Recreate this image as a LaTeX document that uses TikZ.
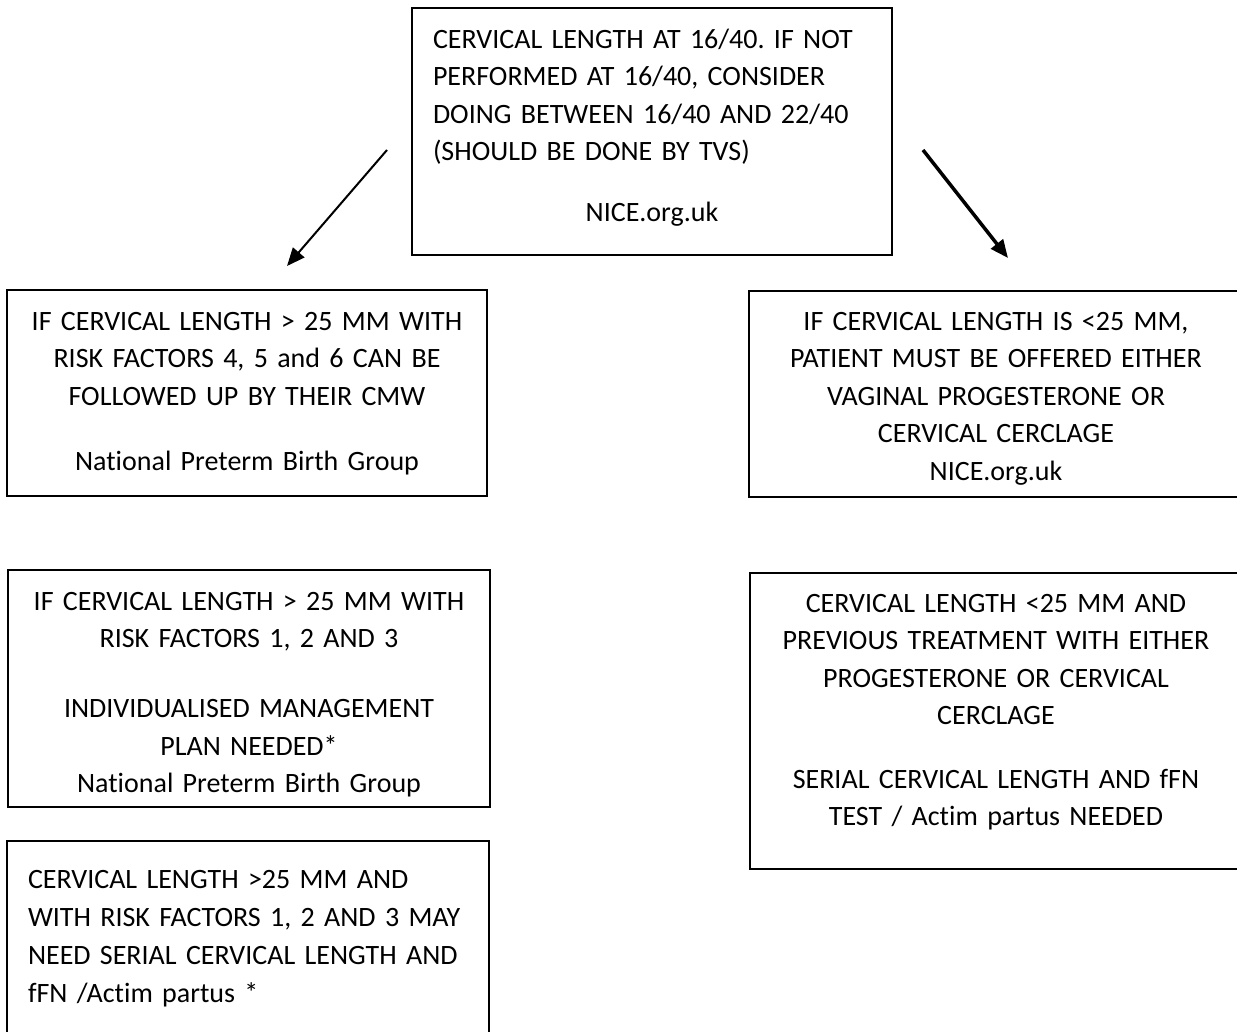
\documentclass[tikz,border=0pt]{standalone}
\usepackage{fontspec}
\setmainfont{Carlito}[Ligatures=NoCommon]
\usetikzlibrary{arrows.meta}
\frenchspacing
\begin{document}
\begin{tikzpicture}[x=1pt,y=-1pt,
  box/.style={draw, line width=1.3pt, inner sep=0pt, outer sep=0pt, anchor=north west},
  txt/.style={inner sep=0pt, outer sep=0pt, font=\fontsize{28}{37.5}\selectfont},
  arr/.style={-{Triangle[length=18pt,width=15pt]}}]
\useasboundingbox (0,0) rectangle (1237,1031);
% boxes
\node[box, minimum width=480pt, minimum height=247pt] (top) at (412,8) {};
\node[box, minimum width=480pt, minimum height=206pt] (l1) at (7,290) {};
\node[box, minimum width=496pt, minimum height=206pt] (r1) at (749,291) {};
\node[box, minimum width=482pt, minimum height=237pt] (l2) at (8,570) {};
\node[box, minimum width=495pt, minimum height=296pt] (r2) at (750,573) {};
\node[box, minimum width=482pt, minimum height=204pt] (b) at (7,841) {};
% texts
\node[txt, anchor=base west, text width=438pt, align=left] (topt) at (433,48)
  {CERVICAL LENGTH AT 16/40. IF NOT\\ PERFORMED AT 16/40, CONSIDER\\ DOING BETWEEN 16/40 AND 22/40\\ (SHOULD BE DONE BY TVS)\par\vspace{23.5pt}{\centering NICE.org.uk\par}};
\node[txt, anchor=base, text width=470pt, align=center] (l1t) at (247,330)
  {IF CERVICAL LENGTH > 25 MM WITH\\ RISK FACTORS 4, 5 and 6 CAN BE\\ FOLLOWED UP BY THEIR CMW\\[27.5pt] National Preterm Birth Group};
\node[txt, anchor=base, text width=470pt, align=center] (r1t) at (996,330)
  {IF CERVICAL LENGTH IS <25 MM,\\ PATIENT MUST BE OFFERED EITHER\\ VAGINAL PROGESTERONE OR\\ CERVICAL CERCLAGE\\ NICE.org.uk};
\node[txt, anchor=base, text width=470pt, align=center] (l2t) at (249,610)
  {IF CERVICAL LENGTH > 25 MM WITH\\ RISK FACTORS 1, 2 AND 3\\[32.5pt] INDIVIDUALISED MANAGEMENT\\ PLAN NEEDED*\\ National Preterm Birth Group};
\node[txt, anchor=base, text width=470pt, align=center] (r2t) at (996,612)
  {CERVICAL LENGTH <25 MM AND\\ PREVIOUS TREATMENT WITH EITHER\\ PROGESTERONE OR CERVICAL\\ CERCLAGE\\[26pt] SERIAL CERVICAL LENGTH AND fFN\\ TEST / Actim partus NEEDED};
\node[txt, anchor=base west, text width=460pt, align=left, font=\fontsize{28}{38}\selectfont] (bt) at (28,888)
  {CERVICAL LENGTH >25 MM AND\\ WITH RISK FACTORS 1, 2 AND 3 MAY\\ NEED SERIAL CERVICAL LENGTH AND\\ fFN /Actim partus *};
% arrows
\coordinate (a1s) at (387,150);
\coordinate (a1e) at (287,266);
\coordinate (a2s) at (923,150);
\coordinate (a2e) at (1008,258);
\draw[arr, line width=2pt] (a1s) -- (a1e);
\draw[arr, line width=3.5pt] (a2s) -- (a2e);
\end{tikzpicture}
\end{document}
